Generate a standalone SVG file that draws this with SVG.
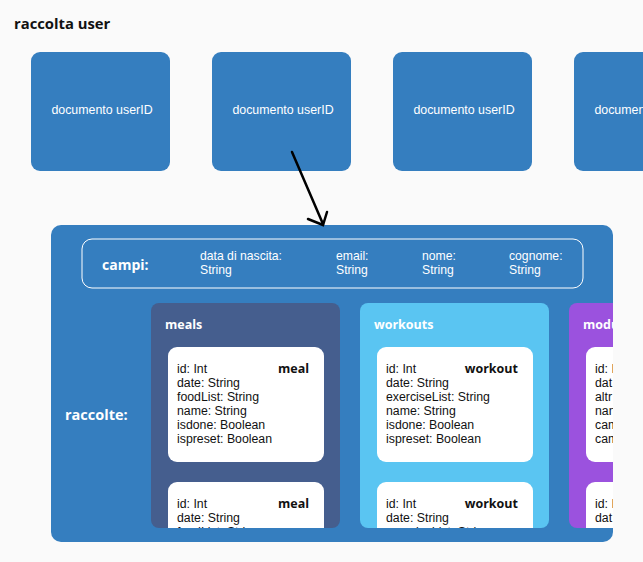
<svg xmlns="http://www.w3.org/2000/svg" width="643" height="562" viewBox="0 0 643 562">
<style>
text{font-family:"Open Sans","Noto Sans",sans-serif}
.doc{fill:#357EBF}
.doct{fill:#fff;font-size:12.4px;text-anchor:middle;font-family:"Liberation Sans",Arial,sans-serif}
.lbl{fill:#fff;font-size:12.2px;font-family:"Liberation Sans",Arial,sans-serif}
.hd{fill:#fff;font-size:12.5px;font-weight:bold}
.card{fill:#fff}
.ct{fill:#111;font-size:12.3px;font-family:"Liberation Sans",Arial,sans-serif}
.cn{fill:#111;font-size:12.5px;font-weight:bold;text-anchor:end}
</style>
<defs>
<clipPath id="cont"><rect x="51" y="225" width="562" height="317" rx="10"/></clipPath>
<clipPath id="pm"><rect x="151" y="303" width="189" height="225"/></clipPath>
<clipPath id="pw"><rect x="360" y="303" width="189" height="225"/></clipPath>
<clipPath id="pp"><rect x="569" y="303" width="189" height="225"/></clipPath>
</defs>
<rect width="643" height="562" fill="#FAFAFA"/>
<text x="14" y="29" style="font-size:14.8px;font-weight:bold;fill:#111">raccolta user</text>

<g id="doc1"><rect class="doc" x="31" y="52" width="139" height="119" rx="9"/><text class="doct" x="102" y="114">documento userID</text></g>
<g id="doc2"><rect class="doc" x="212" y="52" width="139" height="119" rx="9"/><text class="doct" x="283" y="114">documento userID</text></g>
<g id="doc3"><rect class="doc" x="393" y="52" width="139" height="119" rx="9"/><text class="doct" x="464" y="114">documento userID</text></g>
<g id="doc4"><rect class="doc" x="574" y="52" width="139" height="119" rx="9"/><text class="doct" x="645" y="114">documento userID</text></g>

<g id="container">
<rect x="51" y="225" width="562" height="317" rx="10" fill="#357EBF"/>
<g clip-path="url(#cont)">
<g id="campi">
<rect x="82" y="239" width="501" height="49" rx="10" fill="none" stroke="#fff" stroke-width="1"/>
<text class="hd" x="102" y="270" style="font-size:14px">campi:</text>
<text class="lbl" x="200" y="260">data di nascita:</text><text class="lbl" x="200" y="274">String</text>
<text class="lbl" x="336" y="260">email:</text><text class="lbl" x="336" y="274">String</text>
<text class="lbl" x="422" y="260">nome:</text><text class="lbl" x="422" y="274">String</text>
<text class="lbl" x="509" y="260">cognome:</text><text class="lbl" x="509" y="274">String</text>
</g>
<text class="hd" x="65" y="420" style="font-size:14.5px">raccolte:</text>

<g id="meals">
<rect x="151" y="303" width="189" height="225" rx="8" fill="#455E8E"/>
<text class="hd" x="165" y="329">meals</text>
<g clip-path="url(#pm)">
<rect class="card" x="168" y="347" width="156" height="115" rx="9"/>
<text class="cn" x="309" y="373">meal</text>
<text class="ct" x="177" y="373">id: Int</text>
<text class="ct" x="177" y="387">date: String</text>
<text class="ct" x="177" y="401">foodList: String</text>
<text class="ct" x="177" y="415">name: String</text>
<text class="ct" x="177" y="429">isdone: Boolean</text>
<text class="ct" x="177" y="443">ispreset: Boolean</text>
<rect class="card" x="168" y="482" width="156" height="115" rx="9"/>
<text class="cn" x="309" y="508">meal</text>
<text class="ct" x="177" y="508">id: Int</text>
<text class="ct" x="177" y="522">date: String</text>
<text class="ct" x="177" y="536">foodList: String</text>
</g>
</g>

<g id="workouts">
<rect x="360" y="303" width="189" height="225" rx="8" fill="#5AC5F2"/>
<text class="hd" x="374" y="329">workouts</text>
<g clip-path="url(#pw)">
<rect class="card" x="377" y="347" width="156" height="115" rx="9"/>
<text class="cn" x="518" y="373">workout</text>
<text class="ct" x="386" y="373">id: Int</text>
<text class="ct" x="386" y="387">date: String</text>
<text class="ct" x="386" y="401">exerciseList: String</text>
<text class="ct" x="386" y="415">name: String</text>
<text class="ct" x="386" y="429">isdone: Boolean</text>
<text class="ct" x="386" y="443">ispreset: Boolean</text>
<rect class="card" x="377" y="482" width="156" height="115" rx="9"/>
<text class="cn" x="518" y="508">workout</text>
<text class="ct" x="386" y="508">id: Int</text>
<text class="ct" x="386" y="522">date: String</text>
<text class="ct" x="386" y="536">exerciseList: String</text>
</g>
</g>

<g id="third">
<rect x="569" y="303" width="189" height="225" rx="8" fill="#9B52DE"/>
<text class="hd" x="583" y="329">modu</text>
<g clip-path="url(#pp)">
<rect class="card" x="586" y="347" width="156" height="115" rx="9"/>
<text class="ct" x="595" y="373">id: I</text>
<text class="ct" x="595" y="387">dat</text>
<text class="ct" x="595" y="401">altr</text>
<text class="ct" x="595" y="415">nan</text>
<text class="ct" x="595" y="429">cam</text>
<text class="ct" x="595" y="443">cam</text>
<rect class="card" x="586" y="482" width="156" height="115" rx="9"/>
<text class="ct" x="595" y="508">id: I</text>
<text class="ct" x="595" y="522">dat</text>
</g>
</g>
</g>
</g>

<g id="connectors" stroke="#000" stroke-width="2.5" fill="none" stroke-linecap="round">
<line x1="292" y1="152" x2="323" y2="224"/>
<polyline points="308,219 323,225 327,212"/>
</g>
</svg>
